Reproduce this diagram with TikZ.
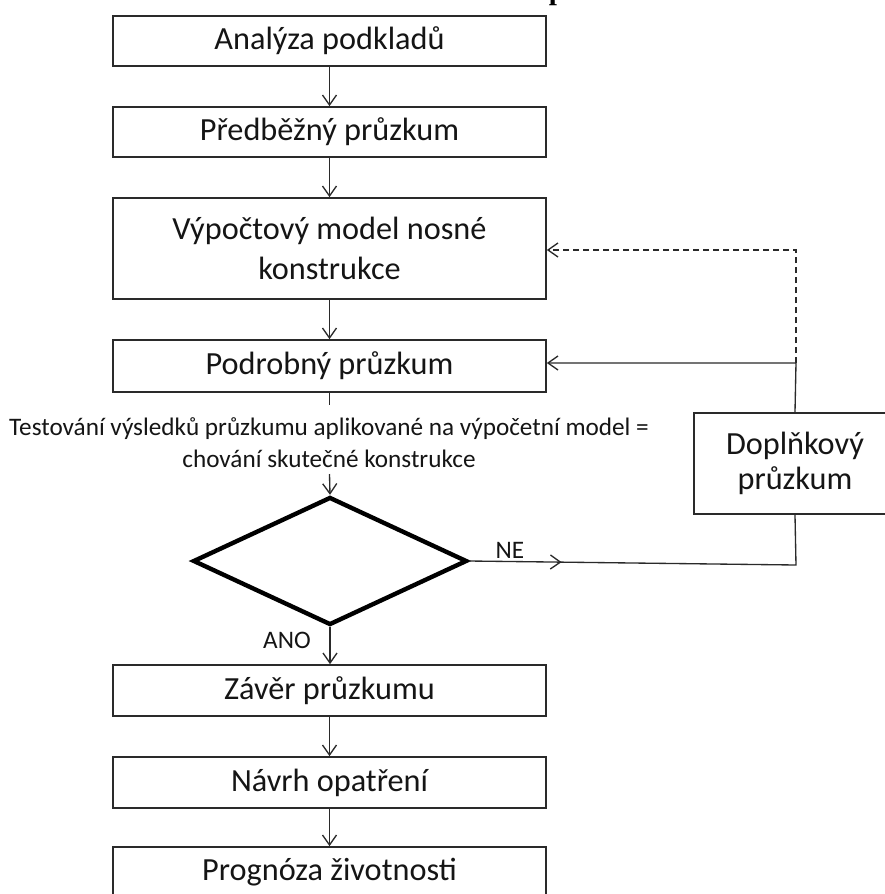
\documentclass[tikz,border=0pt]{standalone}
\usepackage{fontspec}
\setmainfont{Carlito}
\newfontfamily\serifp{Liberation Serif}
\usetikzlibrary{arrows.meta,shapes.geometric,decorations.markings}
\definecolor{lncol}{HTML}{2A2A2A}
\definecolor{txcol}{HTML}{151515}
\begin{document}
\begin{tikzpicture}[x=0.75pt,y=-0.75pt,
  box/.style={draw=lncol, line width=1.25pt, rectangle, inner sep=0pt,
    minimum width=324.75pt, text=txcol, align=center,
    font=\fontsize{24.2}{30}\selectfont},
  tip/.tip={Straight Barb[length=7.5pt,width=10.5pt]},
  arr/.style={draw=lncol, line width=1pt, -tip},
  plain/.style={draw=lncol, line width=1pt},
  lbl/.style={text=txcol, inner sep=0pt, font=\fontsize{18.9}{24}\selectfont, align=center}]
\useasboundingbox (0,0) rectangle (885,894);
\fill[white] (0,0) rectangle (885,894);

\node[font=\serifp\bfseries\fontsize{22}{22}\selectfont, anchor=base, inner sep=0pt] (pfrag) at (557,-0.5) {p};

\node[box, minimum height=37.5pt] (b1) at (329.5,41) {Analýza podkladů};
\node[box, minimum height=37.5pt] (b2) at (329.5,132) {Předběžný průzkum};
\node[box, minimum height=75.75pt] (b3) at (329.5,248.5) {Výpočtový model nosné\\konstrukce};
\node[box, minimum height=39pt] (b4) at (329.5,366) {Podrobný průzkum};
\node[box, minimum height=38.25pt] (b5) at (329.5,690.5) {Závěr průzkumu};
\node[box, minimum height=38.25pt] (b6) at (329.5,782.5) {Návrh opatření};
\node[box, minimum height=38.25pt] (b7) at (329.5,872.5) {Prognóza životnosti};
\node[box, minimum width=151.5pt, minimum height=75.75pt,
  font=\fontsize{24.2}{26.25}\selectfont] (dop) at (795,463.5) {Doplňkový\\průzkum};

\node[draw=black, line width=3.3pt, diamond, minimum width=205.5pt,
  minimum height=96pt, inner sep=0pt] (dia) at (330,561) {};

\node[lbl] (cap) at (329,443) {Testování výsledků průzkumu aplikované na výpočetní model =\\chování skutečné konstrukce};
\node[lbl] (ne) at (510,550) {NE};
\node[lbl] (ano) at (287,640) {ANO};

\coordinate (s1) at (329.5,405);
\coordinate (s2) at (329.5,474);
\coordinate (c1) at (796,565);
\coordinate (j1) at (796,363);
\coordinate (j2) at (796,250);

\draw[arr] (b1) -- (b2);
\draw[arr] (b2) -- (b3);
\draw[arr] (b3) -- (b4);
\draw[plain] (b4.south) -- (s1);
\draw[arr] (s2) -- (dia.north);
\draw[arr] (dia.south) -- (dia.south |- b5.north);
\draw[arr] (b5) -- (b6);
\draw[arr] (b6) -- (b7);

\draw[plain, postaction={decorate}, decoration={markings,
  mark=at position 0.245 with {\arrow{tip}}}] (dia.east) -- (c1) -- (dop.south);
\draw[arr] (dop.north) -- (j1) -- (j1 -| b4.east);
\draw[arr, dash pattern=on 4.5pt off 3pt] (j1) -- (j2) -- (j2 -| b3.east);
\end{tikzpicture}
\end{document}
